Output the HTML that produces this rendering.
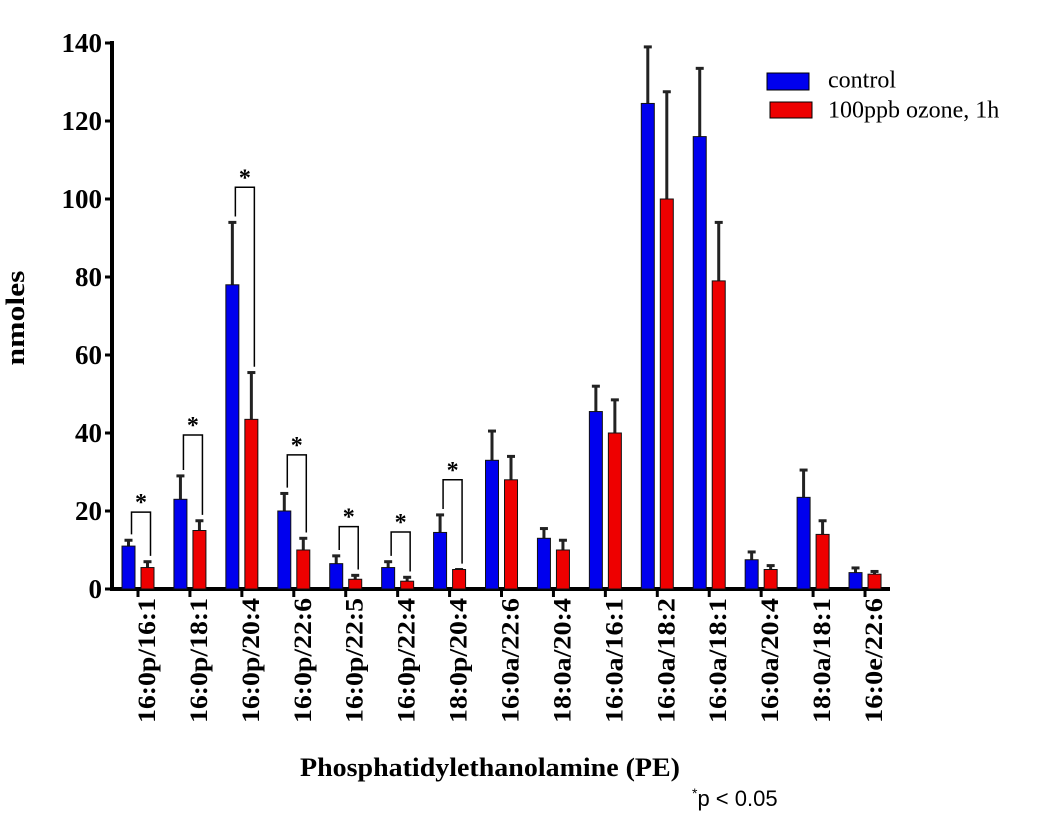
<!DOCTYPE html>
<html><head><meta charset="utf-8"><style>
html,body{margin:0;padding:0;background:#fff;}
svg{display:block;}
</style></head><body>
<svg id="chart" width="1050" height="822" viewBox="0 0 1050 822" xmlns="http://www.w3.org/2000/svg">
<g id="axes"></g>
<g id="bars"></g>
<g id="sig"></g>
<text x="24" y="318" transform="rotate(-90 24 318)" text-anchor="middle" font-family="Liberation Serif, serif" font-weight="bold" font-size="26" textLength="95" lengthAdjust="spacingAndGlyphs">nmoles</text>
<text x="490" y="776" text-anchor="middle" font-family="Liberation Serif, serif" font-weight="bold" font-size="26" textLength="380" lengthAdjust="spacingAndGlyphs">Phosphatidylethanolamine (PE)</text>
<text x="692" y="806" font-family="Liberation Sans, sans-serif" font-size="22"><tspan font-size="14" dy="-8">*</tspan><tspan dy="8">p &lt; 0.05</tspan></text>
<g>
<rect x="767" y="73" width="42" height="17" fill="#0000ee" stroke="#000" stroke-width="1"/>
<text x="828" y="82" font-family="Liberation Serif, serif" font-size="24" dominant-baseline="middle">control</text>
<rect x="770" y="102" width="42" height="16" fill="#ee0000" stroke="#000" stroke-width="1"/>
<text x="828" y="112" font-family="Liberation Serif, serif" font-size="24" dominant-baseline="middle">100ppb ozone, 1h</text>
</g>
</svg>
<script>
const categories = ["16:0p/16:1","16:0p/18:1","16:0p/20:4","16:0p/22:6","16:0p/22:5","16:0p/22:4","18:0p/20:4","16:0a/22:6","18:0a/20:4","16:0a/16:1","16:0a/18:2","16:0a/18:1","16:0a/20:4","18:0a/18:1","16:0e/22:6"];
const controlValues = [11,23,78,20,6.5,5.5,14.5,33,13,45.5,124.5,116,7.5,23.5,4.2];
const controlErrTop = [12.5,29,94,24.5,8.5,7,19,40.5,15.5,52,139,133.5,9.5,30.5,5.4];
const ozoneValues = [5.5,15,43.5,10,2.5,2,5,28,10,40,100,79,5,14,3.8];
const ozoneErrTop = [7,17.5,55.5,13,3.5,3,5,34,12.5,48.5,127.5,94,6,17.5,4.5];
const sigGroups = [0,1,2,3,4,5,6];
const sigTop = [19.7,39.5,103,34.4,16,14.6,28];
const yTicks = [0,20,40,60,80,100,120,140];

const NS="http://www.w3.org/2000/svg";
const x0=112, xEnd=890, y0=589, pxPerUnit=3.9, groupStart=122, groupStep=51.93, barW=13;
const y = v => y0 - v*pxPerUnit;
const blueX = i => groupStart + i*groupStep;
const redX = i => blueX(i) + 19;
const tickX = i => blueX(i) + 16;
function mk(tag, attrs, parent){const e=document.createElementNS(NS,tag);for(const k in attrs)e.setAttribute(k,attrs[k]);parent.appendChild(e);return e;}
const axes=document.getElementById('axes'), bars=document.getElementById('bars'), sig=document.getElementById('sig');

let e=mk('line',{x1:x0,y1:y(140)-2,x2:x0,y2:y0+2,stroke:'#000','stroke-width':4},axes);


e=mk('line',{x1:x0-2,y1:y0,x2:xEnd,y2:y0,stroke:'#000','stroke-width':4},axes);


yTicks.forEach(t=>{
  const tk=mk('line',{x1:x0-7,y1:y(t),x2:x0,y2:y(t),stroke:'#000','stroke-width':3},axes);
  
  
  const tl=mk('text',{x:x0-10,y:y(t)+9,'text-anchor':'end','font-family':'Liberation Serif, serif','font-weight':'bold','font-size':27},axes);
  tl.textContent=t;
  
  
});
categories.forEach((c,i)=>{
  const tx=tickX(i);
  const tk=mk('line',{x1:tx,y1:y0,x2:tx,y2:y0+8,stroke:'#000','stroke-width':3},axes);
  
  
  const bx=tx+17, by=598;
  const tl=mk('text',{x:bx,y:by,transform:`rotate(-90 ${bx} ${by})`,'text-anchor':'end','font-family':'Liberation Serif, serif','font-weight':'bold','font-size':25,textLength:125,lengthAdjust:'spacingAndGlyphs'},axes);
  tl.textContent=c;
  
  
  [[blueX(i),controlValues[i],controlErrTop[i],'#0000ee','control'],[redX(i),ozoneValues[i],ozoneErrTop[i],'#ee0000','ozone']].forEach(([bx,v,err,col,nm])=>{
    const cx=bx+barW/2;
    const el=mk('line',{x1:cx,y1:y(err),x2:cx,y2:y(v),stroke:'#222','stroke-width':3},bars);
    
    
    const cap=mk('line',{x1:cx-4,y1:y(err),x2:cx+4,y2:y(err),stroke:'#222','stroke-width':3},bars);
    
    
    const r=mk('rect',{x:bx,y:y(v),width:barW,height:y0-y(v),fill:col,stroke:'#111','stroke-width':1},bars);
    
    
  });
});
sigGroups.forEach((g,k)=>{
  const lx=blueX(g)+barW/2+3, rx=redX(g)+barW/2+3, ty=y(sigTop[k]);
  const lb=y(controlErrTop[g]+1.5), rb=y(ozoneErrTop[g]+1.5);
  const p=mk('path',{d:`M${lx} ${lb} L${lx} ${ty} L${rx} ${ty} L${rx} ${rb}`,fill:'none',stroke:'#000','stroke-width':1.5},sig);
  
  
  const s=mk('text',{x:(lx+rx)/2,y:ty-2,'text-anchor':'middle','font-family':'Liberation Serif, serif','font-weight':'bold','font-size':24},sig);
  s.textContent='*';
  
  
});
</script>
</body></html>
